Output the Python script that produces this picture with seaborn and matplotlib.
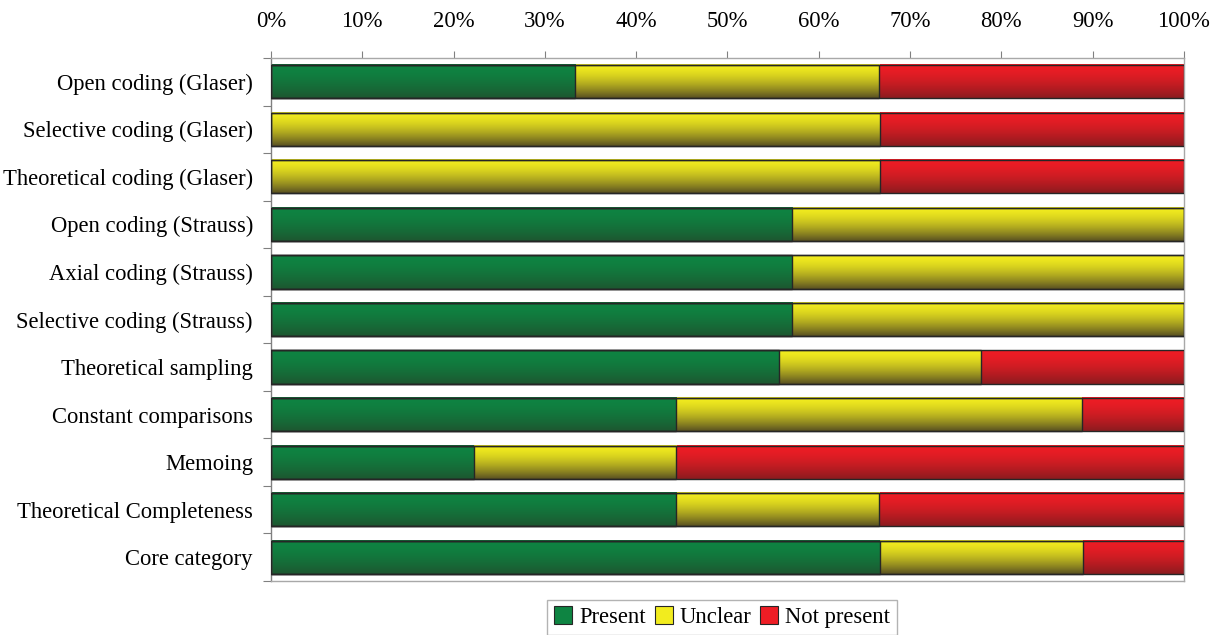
import numpy as np
import pandas as pd
import seaborn as sns
import matplotlib.pyplot as plt
from matplotlib.patches import Patch
from matplotlib.colors import to_rgb

categories = [
    'Open coding (Glaser)', 'Selective coding (Glaser)', 'Theoretical coding (Glaser)',
    'Open coding (Strauss)', 'Axial coding (Strauss)', 'Selective coding (Strauss)',
    'Theoretical sampling', 'Constant comparisons', 'Memoing',
    'Theoretical Completeness', 'Core category',
]
present = [33.3, 0.0, 0.0, 57.1, 57.1, 57.1, 55.6, 44.4, 22.2, 44.4, 66.7]
unclear = [33.3, 66.7, 66.7, 42.9, 42.9, 42.9, 22.2, 44.4, 22.2, 22.2, 22.2]
not_present = [33.4, 33.3, 33.3, 0.0, 0.0, 0.0, 22.2, 11.2, 55.6, 33.4, 11.1]
series = ['Present', 'Unclear', 'Not present']

# top / bottom colour of the gradient fill for each series
top_colors = {'Present': '#0e8442', 'Unclear': '#f2ec1e', 'Not present': '#ee1d25'}
bottom_colors = {'Present': '#1d5730', 'Unclear': '#5a5222', 'Not present': '#8c1b1f'}

df = pd.DataFrame({'category': categories, 'Present': present,
                   'Unclear': unclear, 'Not present': not_present})
df['cum_present'] = df['Present']
df['cum_unclear'] = df['Present'] + df['Unclear']
df['cum_all'] = df['cum_unclear'] + df['Not present']

sns.set_theme(style='white')
plt.rcParams['font.family'] = ['Liberation Serif', 'DejaVu Serif']
plt.rcParams['text.color'] = 'black'
plt.rcParams['xtick.color'] = 'black'
plt.rcParams['ytick.color'] = 'black'

fig = plt.figure(figsize=(12.24, 6.35), dpi=100)
ax = fig.add_axes([0.2214, 0.085, 0.9673 - 0.2214, 0.9087 - 0.085])

# stacked: draw the widest first
for col, name in [('cum_all', 'Not present'), ('cum_unclear', 'Unclear'), ('cum_present', 'Present')]:
    n_before = len(ax.patches)
    sns.barplot(data=df, x=col, y='category', orient='h', color=top_colors[name],
                width=0.7, ax=ax, edgecolor='#262626', linewidth=1.0)
    for p in ax.patches[n_before:]:
        x0, y0 = p.get_x(), p.get_y()
        w, h = p.get_width(), p.get_height()
        p.set_facecolor('none')
        p.set_zorder(4)
        if w <= 0:
            p.set_edgecolor('none')
            continue
        t = np.linspace(0, 1, 64) ** 1.6
        c0 = np.array(to_rgb(top_colors[name]))
        c1 = np.array(to_rgb(bottom_colors[name]))
        grad = (c0[None, :] * (1 - t[:, None]) + c1[None, :] * t[:, None])[:, None, :]
        ax.imshow(grad, extent=[x0, x0 + w, y0 + h, y0], origin='upper',
                  aspect='auto', zorder=2, interpolation='bilinear')

ax.set_xlim(0, 100)
ax.set_ylim(len(categories) - 0.5, -0.5)
ax.set_xticks(np.arange(0, 101, 10))
ax.set_xticklabels([f'{v}%' for v in range(0, 101, 10)])
ax.xaxis.tick_top()
ax.xaxis.set_label_position('top')
ax.set_xlabel('')
ax.set_ylabel('')
ax.tick_params(axis='x', which='major', top=True, bottom=False, length=5,
               width=0.8, color='#808080', pad=14, labelsize=16.3)
ax.tick_params(axis='y', which='major', left=False, length=0, pad=13, labelsize=16.3)
ax.set_yticks(np.arange(-0.5, len(categories) - 0.4, 1), minor=True)
ax.tick_params(axis='y', which='minor', left=True, length=6, width=0.8, color='#808080')

for s in ['top', 'right', 'bottom']:
    ax.spines[s].set_color('#a8a8a8')
    ax.spines[s].set_linewidth(1.0)
ax.spines['left'].set_color('#808080')
ax.spines['left'].set_linewidth(1.0)

handles = [Patch(facecolor=top_colors[s], edgecolor='#262626', linewidth=0.8) for s in series]
fig.legend(handles, series, loc='center', bbox_to_anchor=(0.59, 0.028), ncol=3,
           frameon=True, fancybox=False, edgecolor='#a0a0a0', fontsize=16.3,
           handlelength=0.8, handleheight=0.8, handletextpad=0.3, columnspacing=0.4,
           borderpad=0.3)

fig.savefig('out.png', dpi=100, facecolor='white')
